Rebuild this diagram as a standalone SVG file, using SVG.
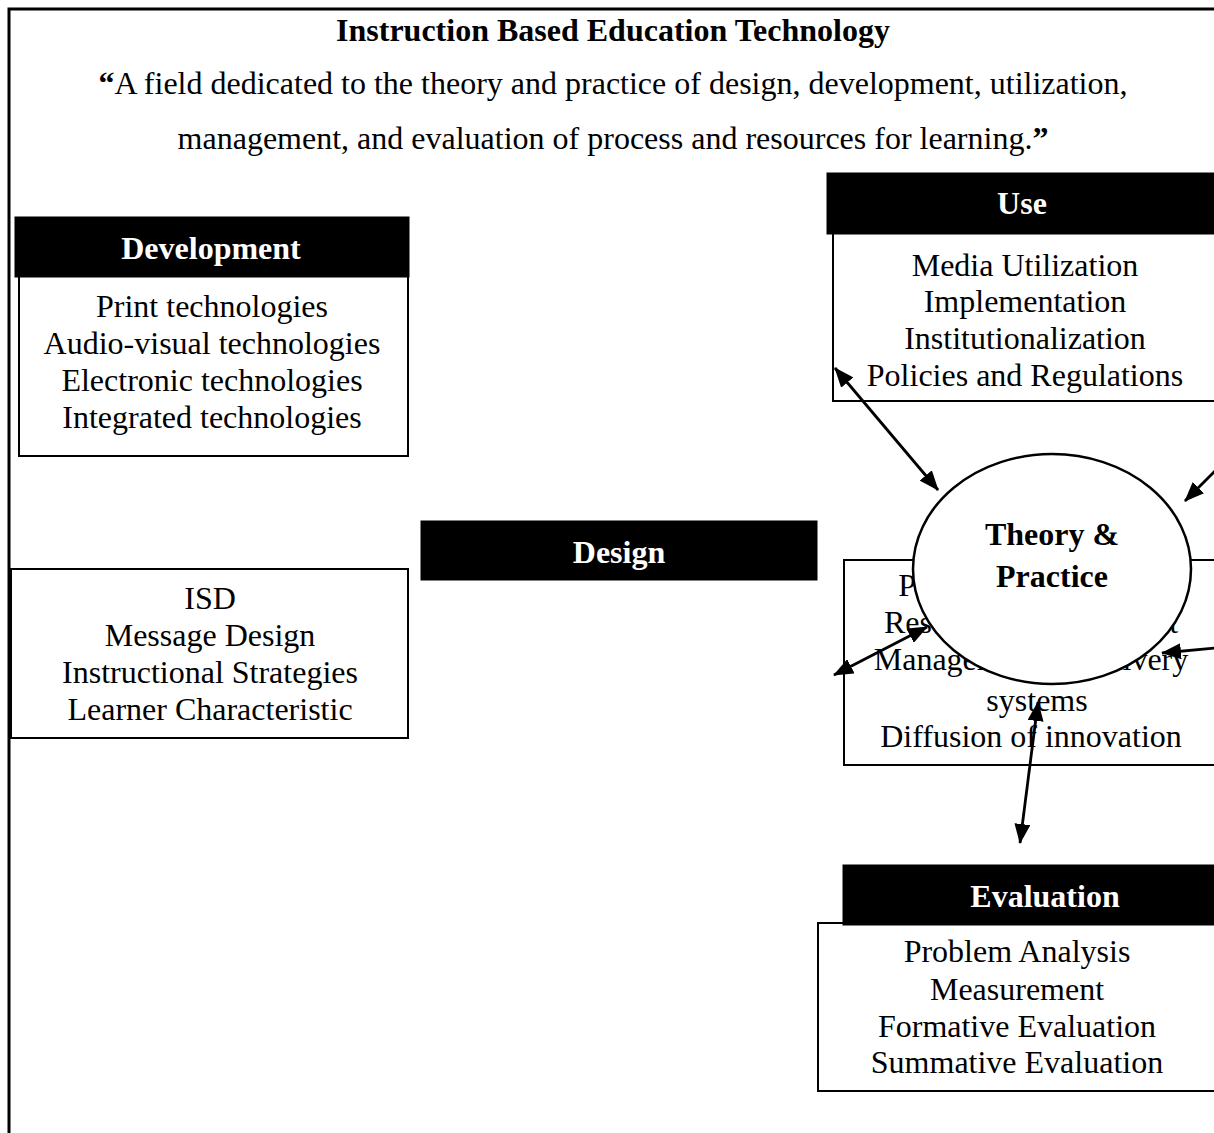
<svg xmlns="http://www.w3.org/2000/svg" width="1214" height="1133" viewBox="0 0 1214 1133">
<style>
text{font-family:"Liberation Serif","Times New Roman",serif;font-size:32px;fill:#000;text-anchor:middle}
.b{font-weight:bold}
.w{fill:#fff;font-weight:bold}
.hdr{fill:#000;stroke:#000;stroke-width:1}
.box{fill:#fff;stroke:#000;stroke-width:2}
.arr{stroke:#000;stroke-width:2.8;fill:none}
</style>
<defs>
<marker id="ah" markerUnits="userSpaceOnUse" markerWidth="20" markerHeight="16" refX="19" refY="8" orient="auto-start-reverse">
<path d="M0,0 L20,8 L0,16 z" fill="#000"/>
</marker>
</defs>
<rect width="1214" height="1133" fill="#fff"/>
<path d="M9,1133 V9 H1214" fill="none" stroke="#000" stroke-width="3"/>
<g id="title">
<text class="b" x="613" y="41">Instruction Based Education Technology</text>
<text x="613" y="94"><tspan class="b">“</tspan>A field dedicated to the theory and practice of design, development, utilization,</text>
<text x="613" y="149">management, and evaluation of process and resources for learning.<tspan class="b">”</tspan></text>
</g>
<g id="development">
<rect class="box" x="19" y="276" width="389" height="180"/>
<rect class="hdr" x="15" y="217" width="394" height="60"/>
<text class="w" x="211" y="259">Development</text>
<text x="212" y="317">Print technologies</text>
<text x="212" y="354">Audio-visual technologies</text>
<text x="212" y="391">Electronic technologies</text>
<text x="212" y="428">Integrated technologies</text>
</g>
<g id="design">
<rect class="hdr" x="421" y="521" width="396" height="59"/>
<text class="w" x="619" y="563">Design</text>
<rect class="box" x="11" y="569" width="397" height="169"/>
<text x="210" y="609">ISD</text>
<text x="210" y="646">Message Design</text>
<text x="210" y="683">Instructional Strategies</text>
<text x="210" y="720">Learner Characteristic</text>
</g>
<g id="use">
<rect class="box" x="833" y="233" width="400" height="168"/>
<rect class="hdr" x="827" y="173" width="400" height="61"/>
<text class="w" x="1022" y="214">Use</text>
<text x="1025" y="276">Media Utilization</text>
<text x="1025" y="312">Implementation</text>
<text x="1025" y="349">Institutionalization</text>
<text x="1025" y="386">Policies and Regulations</text>
</g>
<g id="management">
<rect class="box" x="844" y="560" width="400" height="205"/>
<text x="1031" y="596">Project Management</text>
<text x="1031" y="633">Resource Management</text>
<text x="1031" y="670">Management of delivery</text>
<text x="1037" y="711">systems</text>
<text x="1031" y="747">Diffusion of innovation</text>
</g>
<g id="theory-practice">
<ellipse cx="1052" cy="569" rx="139" ry="115" fill="#fff" stroke="#000" stroke-width="2.5"/>
<text class="b" x="1052" y="545">Theory &amp;</text>
<text class="b" x="1052" y="587">Practice</text>
</g>
<g id="evaluation">
<rect class="box" x="818" y="923" width="420" height="168"/>
<rect class="hdr" x="843" y="865" width="400" height="60"/>
<text class="w" x="1045" y="907">Evaluation</text>
<text x="1017" y="962">Problem Analysis</text>
<text x="1017" y="1000">Measurement</text>
<text x="1017" y="1037">Formative Evaluation</text>
<text x="1017" y="1073">Summative Evaluation</text>
</g>
<g id="connectors">
<line class="arr" x1="835" y1="368" x2="938" y2="490" marker-start="url(#ah)" marker-end="url(#ah)"/>
<line class="arr" x1="1216" y1="470" x2="1185" y2="501" marker-end="url(#ah)"/>
<line class="arr" x1="834" y1="675" x2="927" y2="627" marker-start="url(#ah)" marker-end="url(#ah)"/>
<line class="arr" x1="1216" y1="648" x2="1162" y2="653" marker-end="url(#ah)"/>
<line class="arr" x1="1038" y1="702" x2="1020" y2="843" marker-start="url(#ah)" marker-end="url(#ah)"/>
</g>
</svg>
